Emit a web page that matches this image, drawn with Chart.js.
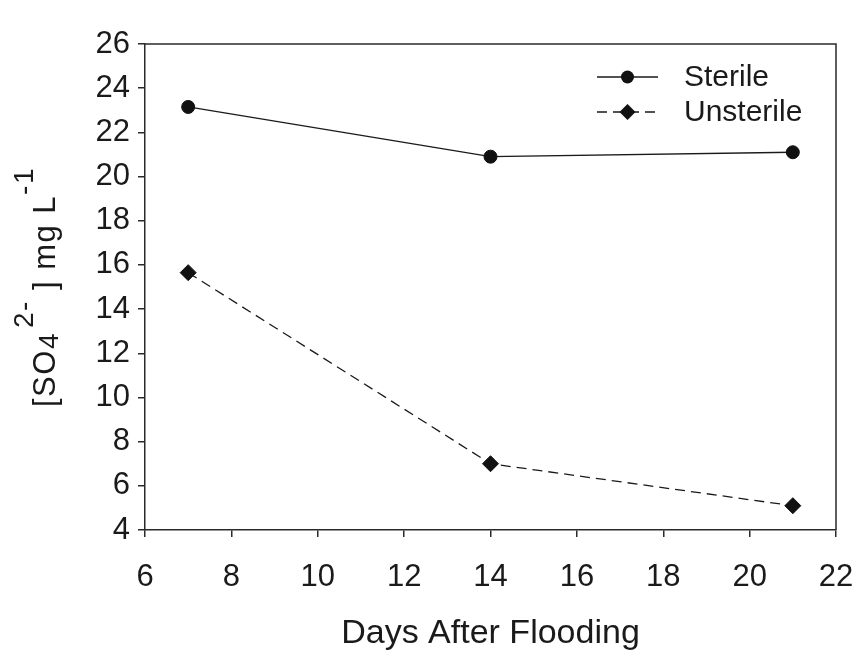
<!DOCTYPE html>
<html>
<head>
<meta charset="utf-8">
<script src="https://cdn.jsdelivr.net/npm/chart.js@4/dist/chart.umd.min.js"></script>
<style>
  html, body { margin: 0; padding: 0; background: #fff; }
  #wrap { width: 862px; height: 656px; }
</style>
</head>
<body>
<div id="wrap"><canvas id="c" width="862" height="656"></canvas></div>
<script>
// ---- data ----
const days = [7, 14, 21];
const sterile = [23.15, 20.9, 21.1];
const unsterile = [15.65, 7.0, 5.1];
const seriesLabels = ['Sterile', 'Unsterile'];
const xTicks = [6, 8, 10, 12, 14, 16, 18, 20, 22];
const yTicks = [4, 6, 8, 10, 12, 14, 16, 18, 20, 22, 24, 26];
const xTitle = 'Days After Flooding';
// y title pieces: [text, kind]  kind: n = normal, sub = subscript, sup = superscript
const yTitleParts = [['[SO', 'n'], ['4', 'sub'], ['2-', 'sup'], [' ] mg L', 'n'], ['-1', 'sup']];

const FONT = "'Liberation Sans', Arial, sans-serif";
const AXIS = '#2a2a2a';
const INK = '#1a1a1a';

function pts(ys) { return days.map((d, i) => ({ x: d, y: ys[i] })); }

const boxPlugin = {
  id: 'box',
  afterDraw(chart) {
    const { ctx, chartArea: a } = chart;
    ctx.save();
    ctx.strokeStyle = AXIS;
    ctx.lineWidth = 1.5;
    ctx.beginPath();
    ctx.moveTo(a.left, a.top); ctx.lineTo(a.right, a.top); ctx.lineTo(a.right, a.bottom);
    ctx.stroke();
    ctx.restore();
  }
};

const yTitlePlugin = {
  id: 'ytitle',
  afterDraw(chart) {
    const { ctx, chartArea: a } = chart;
    const main = 31, small = 28;
    const fontOf = k => (k === 'n' ? main : small) + 'px ' + FONT;
    ctx.save();
    ctx.letterSpacing = '1.5px';
    const gapAfter = { sub: 4 };
    let total = 0;
    yTitleParts.forEach(([t, k]) => { ctx.font = fontOf(k); total += ctx.measureText(t).width + (gapAfter[k] || 0); });
    const cy = (a.top + a.bottom) / 2;
    ctx.translate(0, cy);
    ctx.rotate(-Math.PI / 2);
    ctx.fillStyle = INK;
    ctx.textBaseline = 'alphabetic';
    let x = -total / 2;
    const base = 55;
    yTitleParts.forEach(([t, k]) => {
      ctx.font = fontOf(k);
      const y = k === 'n' ? base : (k === 'sub' ? base + 3 : base - 22);
      ctx.fillText(t, x, y);
      x += ctx.measureText(t).width + (gapAfter[k] || 0);
    });
    ctx.restore();
  }
};

const legendPlugin = {
  id: 'insideLegend',
  afterDraw(chart) {
    const { ctx, chartArea: a } = chart;
    ctx.save();
    chart.data.datasets.forEach((ds, i) => {
      const y = a.top + 33 + i * 35;
      const x0 = a.right - 239, x1 = a.right - 178, xm = (x0 + x1) / 2;
      ctx.strokeStyle = ds.borderColor;
      ctx.lineWidth = ds.borderWidth;
      ctx.setLineDash(ds.borderDash || []);
      ctx.beginPath(); ctx.moveTo(x0, y); ctx.lineTo(x1, y); ctx.stroke();
      ctx.setLineDash([]);
      ctx.fillStyle = ds.pointBackgroundColor;
      ctx.beginPath();
      const r = ds.pointRadius;
      if (ds.pointStyle === 'circle') {
        ctx.arc(xm, y, r, 0, Math.PI * 2);
      } else {
        ctx.moveTo(xm, y - r); ctx.lineTo(xm + r, y); ctx.lineTo(xm, y + r); ctx.lineTo(xm - r, y); ctx.closePath();
      }
      ctx.fill();
      ctx.fillStyle = INK;
      ctx.font = '30px ' + FONT;
      ctx.textBaseline = 'middle';
      ctx.fillText(ds.label, a.right - 152, y + 1);
    });
    ctx.restore();
  }
};

new Chart(document.getElementById('c'), {
  type: 'line',
  data: {
    datasets: [
      {
        label: seriesLabels[0], data: pts(sterile),
        borderColor: INK, borderWidth: 1.3, borderDash: [],
        pointStyle: 'circle', pointRadius: 6.5,
        pointBackgroundColor: '#111', pointBorderColor: '#111', pointBorderWidth: 1
      },
      {
        label: seriesLabels[1], data: pts(unsterile),
        borderColor: INK, borderWidth: 1.3, borderDash: [10, 6],
        pointStyle: 'rectRot', pointRadius: 8,
        pointBackgroundColor: '#111', pointBorderColor: '#111', pointBorderWidth: 1
      }
    ]
  },
  options: {
    responsive: false,
    animation: false,
    devicePixelRatio: 1,
    layout: { padding: { top: 44, right: 26, left: 0, bottom: 0 } },
    plugins: { legend: { display: false }, tooltip: { enabled: false } },
    scales: {
      x: {
        type: 'linear', min: 6, max: 22,
        afterBuildTicks: s => { s.ticks = xTicks.map(v => ({ value: v })); },
        afterFit: s => { s.height = 126; s.paddingRight = 0; s.paddingLeft = 0; },
        ticks: { font: { size: 31, family: FONT }, color: INK, padding: 22, maxRotation: 0 },
        grid: { drawOnChartArea: false, drawTicks: true, tickLength: 7, color: AXIS, lineWidth: 1.5 },
        border: { display: true, color: AXIS, width: 1.5 },
        title: { display: true, text: xTitle, font: { size: 34, family: FONT }, color: INK, padding: { top: 4, bottom: 2 } }
      },
      y: {
        type: 'linear', min: 4, max: 26,
        afterBuildTicks: s => { s.ticks = yTicks.map(v => ({ value: v })); },
        afterFit: s => { s.width = 145; s.paddingTop = 0; s.paddingBottom = 0; },
        ticks: { font: { size: 31, family: FONT }, color: INK, padding: 8 },
        grid: { drawOnChartArea: false, drawTicks: true, tickLength: 7, color: AXIS, lineWidth: 1.5 },
        border: { display: true, color: AXIS, width: 1.5 }
      }
    }
  },
  plugins: [boxPlugin, yTitlePlugin, legendPlugin]
});
</script>
</body>
</html>
